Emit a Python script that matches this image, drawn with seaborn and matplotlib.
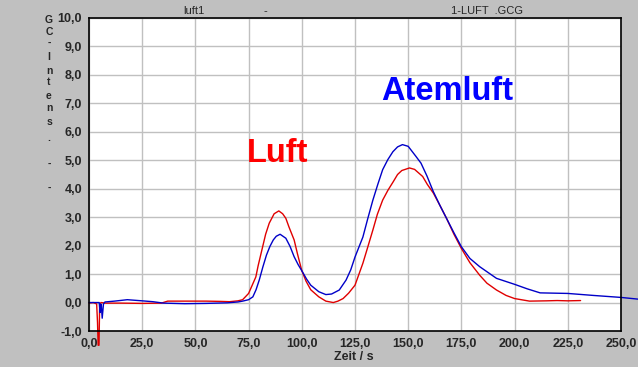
import matplotlib
matplotlib.use("Agg")
import matplotlib.pyplot as plt
import seaborn as sns
import pandas as pd

# ---- data ----
luft_x = [0, 2, 3.6, 4.0, 4.3, 4.7, 5.0, 5.6, 8, 15, 25, 34, 37, 45, 55, 62, 66, 70,
          72.2, 75, 78.4, 79.5, 81.6, 83, 84.7, 87, 89.2, 91, 92.5, 94, 96.4, 98, 100,
          102, 104.2, 108, 111.3, 114.8, 117, 119.4, 122, 125, 128.7, 130.8, 133.4,
          135.5, 138, 140.5, 143, 145, 147, 150.6, 153, 156.8, 159, 161.8, 165, 168,
          171.5, 175, 179, 183.6, 187, 191.5, 196, 200, 207, 215, 220, 225, 231]
luft_y = [-0.02, 0.0, -0.05, -0.7, -1.5, -1.5, -0.1, 0.0, -0.02, -0.02, -0.03, -0.02,
          0.05, 0.05, 0.05, 0.04, 0.03, 0.06, 0.1, 0.32, 0.9, 1.3, 1.96, 2.4, 2.79, 3.12,
          3.22, 3.12, 2.96, 2.65, 2.2, 1.7, 1.12, 0.75, 0.45, 0.2, 0.05, 0.0, 0.05, 0.14,
          0.33, 0.61, 1.38, 1.9, 2.55, 3.1, 3.6, 3.95, 4.25, 4.5, 4.64, 4.73, 4.68, 4.43,
          4.15, 3.85, 3.4, 2.96, 2.4, 1.9, 1.4, 0.96, 0.68, 0.44, 0.25, 0.14, 0.05, 0.06,
          0.07, 0.06, 0.07]

atem_x = [0, 2, 4.8, 5.2, 5.5, 5.8, 6.2, 6.8, 7.5, 12, 18, 25, 30, 35, 45, 55, 65, 70,
          72.2, 75, 77, 78.5, 80, 81.7, 83.4, 85, 86.6, 88, 89.8, 92.5, 94.5, 96.4, 98.3,
          100.3, 102.2, 104.2, 108, 111.3, 114, 117.6, 120.8, 123, 125, 128.7, 131,
          133.4, 135.7, 138, 140.4, 142.8, 145, 147.3, 150, 153.6, 156, 158.8, 161.8,
          165, 168, 171.5, 175, 179, 183.6, 191.5, 200, 206, 212, 225, 237, 250, 258]
atem_y = [0.0, 0.0, 0.0, -0.35, -0.05, -0.1, -0.55, -0.05, 0.02, 0.05, 0.1, 0.06, 0.03,
          -0.02, -0.04, -0.03, -0.01, 0.02, 0.05, 0.1, 0.2, 0.45, 0.79, 1.25, 1.67, 1.97,
          2.2, 2.33, 2.4, 2.26, 1.97, 1.61, 1.33, 1.08, 0.83, 0.61, 0.38, 0.28, 0.3, 0.44,
          0.79, 1.15, 1.6, 2.3, 2.95, 3.6, 4.15, 4.67, 5.02, 5.3, 5.47, 5.55, 5.49, 5.14,
          4.9, 4.45, 3.9, 3.4, 2.96, 2.45, 1.96, 1.55, 1.26, 0.85, 0.64, 0.48, 0.34, 0.32,
          0.25, 0.18, 0.12]

x_ticks = [0, 25, 50, 75, 100, 125, 150, 175, 200, 225, 250]
x_labels = ["0,0", "25,0", "50,0", "75,0", "100,0", "125,0", "150,0", "175,0",
            "200,0", "225,0", "250,0"]
y_ticks = [-1, 0, 1, 2, 3, 4, 5, 6, 7, 8, 9, 10]
y_labels = ["-1,0", "0,0", "1,0", "2,0", "3,0", "4,0", "5,0", "6,0", "7,0", "8,0",
            "9,0", "10,0"]
ylabel_chars = ["G", "C", "-", "I", "n", "t", "e", "n", "s", ".", "-", "-"]
header_texts = ["luft1", "-", "1-LUFT  .GCG"]
x_title = "Zeit / s"
label_luft = "Luft"
label_atem = "Atemluft"

# ---- style ----
sns.set_style("white")
plt.rcParams["font.family"] = ["Liberation Sans", "DejaVu Sans"]

W, H = 638, 367
fig = plt.figure(figsize=(W / 100, H / 100), dpi=100)
fig.patch.set_facecolor("#C0C0C0")
L, R, T, B = 89, 621, 18, 331
ax = fig.add_axes([L / W, 1 - B / H, (R - L) / W, (B - T) / H])
ax.set_facecolor("white")

df_l = pd.DataFrame({"x": luft_x, "y": luft_y})
df_a = pd.DataFrame({"x": atem_x, "y": atem_y})
sns.lineplot(data=df_l, x="x", y="y", ax=ax, color="#E00000", linewidth=1.0,
             sort=False, estimator=None)
sns.lineplot(data=df_a, x="x", y="y", ax=ax, color="#0000C8", linewidth=1.0,
             sort=False, estimator=None)
for line in ax.get_lines():
    line.set_clip_on(False)

ax.set_xlim(0, 250)
ax.set_ylim(-1, 10)
ax.set_xticks(x_ticks)
ax.set_xticklabels(x_labels)
ax.set_yticks(y_ticks)
ax.set_yticklabels(y_labels)
ax.grid(True, color="#C0C0C0", linewidth=1.0)
ax.set_axisbelow(True)
for s in ax.spines.values():
    s.set_visible(True)
    s.set_color("black")
    s.set_linewidth(1.2)
ax.tick_params(axis="both", direction="out", length=4, width=1, color="black",
               labelsize=9, pad=1)
for lab in ax.get_xticklabels() + ax.get_yticklabels():
    lab.set_fontweight("bold")

ax.set_xlabel(x_title, fontsize=9, fontweight="bold")
ax.set_ylabel("")
ax.xaxis.set_label_coords((354 - L) / (R - L), (B - 357) / (B - T))
ax.xaxis.label.set_va("center")

ax.text(74.2, 4.95, label_luft, color="#FF0000", fontsize=23.5, fontweight="bold",
        ha="left", va="baseline")
ax.text(137.5, 7.12, label_atem, color="#0000FF", fontsize=23.5, fontweight="bold",
        ha="left", va="baseline")

# header texts
for txt, px in zip(header_texts, [194, 265, 487]):
    fig.text(px / W, 1 - 10.7 / H, txt, fontsize=8, ha="center", va="center")

# vertical y label letters
for ch, py in zip(ylabel_chars, [20, 31.7, 43, 56.7, 70.7, 82.2, 96, 108, 122, 138, 164, 188]):
    fig.text(49 / W, 1 - py / H, ch, fontsize=7.5, fontweight="bold",
             ha="center", va="center")

fig.savefig("out.png", dpi=100, facecolor=fig.get_facecolor())
